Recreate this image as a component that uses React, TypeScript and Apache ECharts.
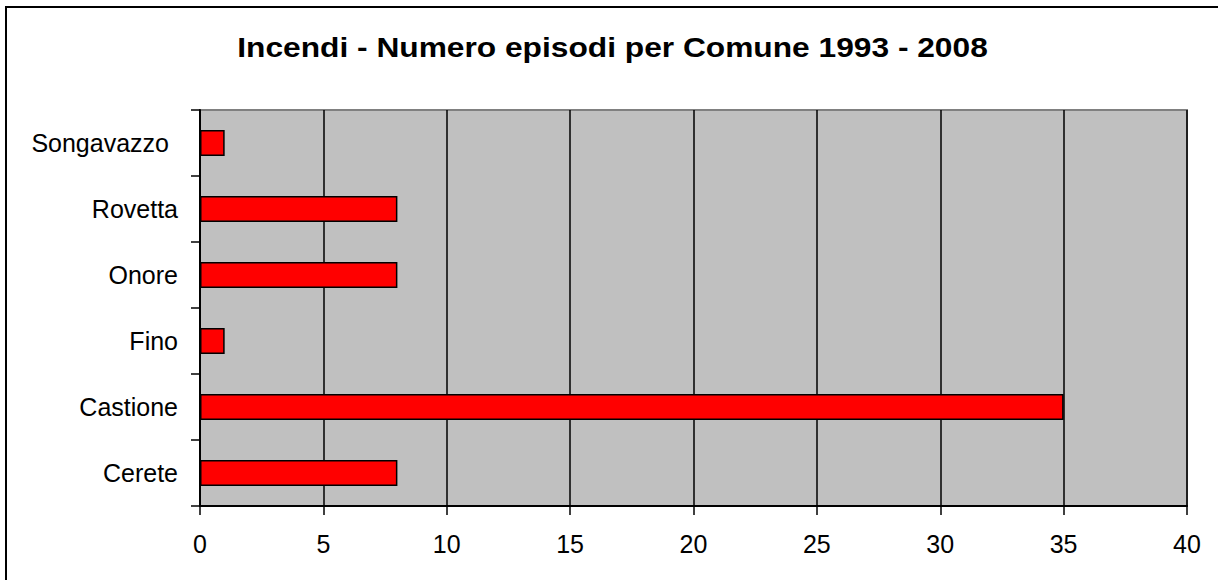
import React, { useEffect, useRef } from "react";
import * as echarts from "echarts";

const titleText = "Incendi - Numero episodi per Comune 1993 - 2008";
const categories = ["Songavazzo", "Rovetta", "Onore", "Fino", "Castione", "Cerete"];
const episodes = [1, 8, 8, 1, 35, 8];
const xMin = 0;
const xMax = 40;
const xStep = 5;

const FONT = "Liberation Sans, Arial, sans-serif";

export default function App() {
  const ref = useRef<HTMLDivElement>(null);
  useEffect(() => {
    if (!ref.current) return;
    const chart = echarts.init(ref.current, null, { renderer: "svg" });
    chart.setOption({
      animation: false,
      backgroundColor: "#ffffff",
      textStyle: { fontFamily: FONT },
      graphic: [
        {
          type: "rect",
          shape: { x: 6, y: 7, width: 1400, height: 800 },
          style: { fill: "none", stroke: "#000", lineWidth: 2 },
          silent: true,
        },
        {
          type: "text",
          x: 612.5,
          y: 47,
          scaleX: 1.175,
          silent: true,
          style: {
            text: titleText,
            fontSize: 27,
            fontWeight: "bold",
            fontFamily: FONT,
            fill: "#000",
            textAlign: "center",
            textVerticalAlign: "middle",
          },
        },
      ],
      grid: {
        left: 200,
        right: 31,
        top: 110,
        bottom: 74,
        show: true,
        backgroundColor: "#c0c0c0",
        borderColor: "#808080",
        borderWidth: 2,
      },
      xAxis: {
        type: "value",
        min: xMin,
        max: xMax,
        interval: xStep,
        axisLine: { show: true, lineStyle: { color: "#000", width: 2 } },
        axisTick: { show: true, length: 9, lineStyle: { color: "#000", width: 1.5 } },
        splitLine: { show: true, lineStyle: { color: "#000", width: 1.5 } },
        axisLabel: { fontSize: 25, color: "#000", margin: 25, fontFamily: FONT },
      },
      yAxis: {
        type: "category",
        data: categories,
        inverse: true,
        axisLine: { show: true, lineStyle: { color: "#000", width: 2 } },
        axisTick: { show: true, length: 9, alignWithLabel: false, lineStyle: { color: "#000", width: 1.5 } },
        splitLine: { show: false },
        axisLabel: {
          fontSize: 25,
          color: "#000",
          margin: 22,
          fontFamily: FONT,
          formatter: (v: string) => (v === "Songavazzo" ? "{s|" + v + "}" : v),
          rich: { s: { fontSize: 25, color: "#000", padding: [0, 9, 0, 0], fontFamily: FONT } },
        },
      },
      series: [
        {
          type: "bar",
          data: episodes,
          barWidth: 26,
          itemStyle: { color: "#ff0000", borderColor: "#000", borderWidth: 1.5 },
        },
      ],
    });
    return () => chart.dispose();
  }, []);
  return (
    <div
      ref={ref}
      style={{ position: "absolute", left: 0, top: 0, width: 1218, height: 580 }}
    />
  );
}
